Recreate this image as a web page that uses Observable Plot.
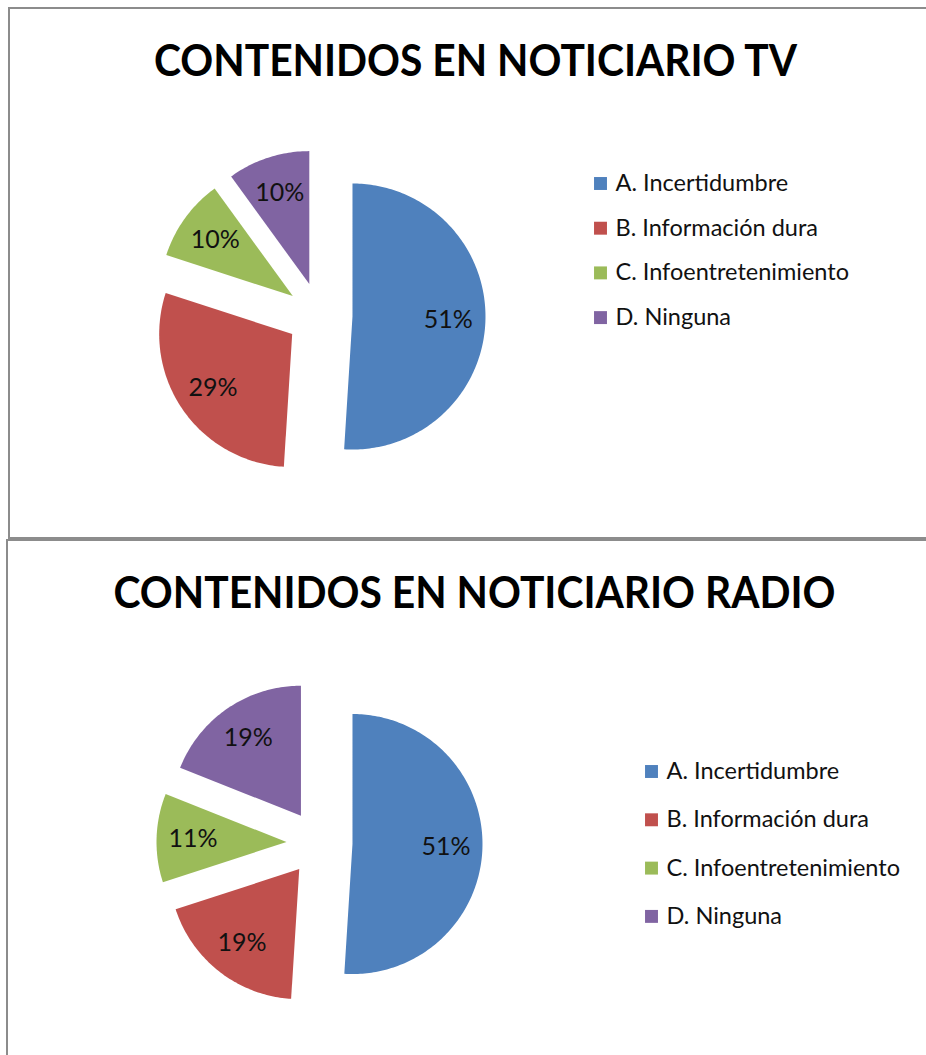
<!DOCTYPE html>
<html>
<head>
<meta charset="utf-8">
<script src="https://cdn.jsdelivr.net/npm/d3@7"></script>
<script src="https://cdn.jsdelivr.net/npm/@observablehq/plot@0.6"></script>
<style>
  html, body { margin: 0; padding: 0; background: #fff; overflow: hidden; }
  body { width: 926px; height: 1055px; position: relative; }
  .panel { position: absolute; width: 930px; border: 2px solid #8c8c8c; box-sizing: border-box; }
  .chart { position: absolute; left: 0; width: 926px; }
</style>
</head>
<body>
<div class="panel" style="left:8px; top:7px; height:532px;"></div>
<div class="panel" style="left:6px; top:539px; height:530px;"></div>
<div id="tv" class="chart" style="top:0px;"></div>
<div id="radio" class="chart" style="top:540px;"></div>
<script>
// ---- data ----
const categories = ["A. Incertidumbre", "B. Información dura", "C. Infoentretenimiento", "D. Ninguna"];
const colors = ["#4F81BD", "#C0504D", "#9BBB59", "#8064A2"];
const tvValues = [51, 29, 10, 10];
const radioValues = [51, 19, 11, 19];
const titleTV = "CONTENIDOS EN NOTICIARIO TV";
const titleRadio = "CONTENIDOS EN NOTICIARIO RADIO";

// ---- layout ----
const W = 926;
const layoutTV = {height: 540, cx: 319, cy: 315, r: 133, explode: 33, titleX: 475, titleY: 61, titleW: 643,
  legendX: 600, legendY: 183, legendStep: 44.7};
const layoutRadio = {height: 515, cx: 319, cy: 302.5, r: 130, explode: 33, titleX: 474, titleY: 53, titleW: 722,
  legendX: 651, legendY: 231, legendStep: 48.3};

function pieChart(values, title, L) {
  const rows = categories.map((c, i) => ({category: c, value: values[i]}));
  const arcs = d3.pie().value(d => d.value).sort(null).startAngle(0).endAngle(2 * Math.PI)(rows);
  const poly = [];
  const labels = [];
  for (const a of arcs) {
    const mid = (a.startAngle + a.endAngle) / 2;
    const ox = L.cx + L.explode * Math.sin(mid);
    const oy = L.cy - L.explode * Math.cos(mid);
    const cat = a.data.category;
    poly.push({category: cat, x: ox, y: oy});
    const n = Math.max(2, Math.ceil((a.endAngle - a.startAngle) / (Math.PI / 180)));
    for (let k = 0; k <= n; ++k) {
      const t = a.startAngle + (a.endAngle - a.startAngle) * k / n;
      poly.push({category: cat, x: ox + L.r * Math.sin(t), y: oy - L.r * Math.cos(t)});
    }
    poly.push({category: cat, x: ox, y: oy});
    labels.push({category: cat, text: a.data.value + "%",
      x: ox + 0.72 * L.r * Math.sin(mid), y: oy - 0.72 * L.r * Math.cos(mid)});
  }
  const legend = categories.map((c, i) => ({category: c, x: L.legendX, y: L.legendY + i * L.legendStep}));
  const svg = Plot.plot({
    width: W,
    height: L.height,
    margin: 0,
    style: {fontFamily: "Lato, 'Open Sans', sans-serif", background: "transparent"},
    x: {domain: [0, W], range: [0, W], axis: null},
    y: {domain: [0, L.height], range: [0, L.height], axis: null},
    color: {domain: categories, range: colors},
    marks: [
      Plot.line(poly, {x: "x", y: "y", z: "category", fill: "category", stroke: "none", curve: "linear"}),
      Plot.text(labels, {x: "x", y: "y", text: "text", fontSize: 25, fill: "#111", lineAnchor: "middle"}),
      Plot.dot(legend, {x: "x", y: "y", fill: "category", symbol: "square", r: 7.3, stroke: "none"}),
      Plot.text(legend, {x: "x", y: "y", text: "category", dx: 15, textAnchor: "start", fontSize: 23.5, fill: "#111", lineAnchor: "middle"}),
      Plot.text([title], {x: () => L.titleX, y: () => L.titleY, text: d => d, fontSize: 44, fontWeight: "bold", fill: "#000", lineAnchor: "middle"})
    ]
  });
  svg.querySelectorAll("text").forEach(t => {
    if (t.textContent.startsWith("CONTENIDOS")) {
      t.setAttribute("textLength", L.titleW);
      t.setAttribute("lengthAdjust", "spacingAndGlyphs");
    }
  });
  return svg;
}

document.getElementById("tv").appendChild(pieChart(tvValues, titleTV, layoutTV));
document.getElementById("radio").appendChild(pieChart(radioValues, titleRadio, layoutRadio));
</script>
</body>
</html>
